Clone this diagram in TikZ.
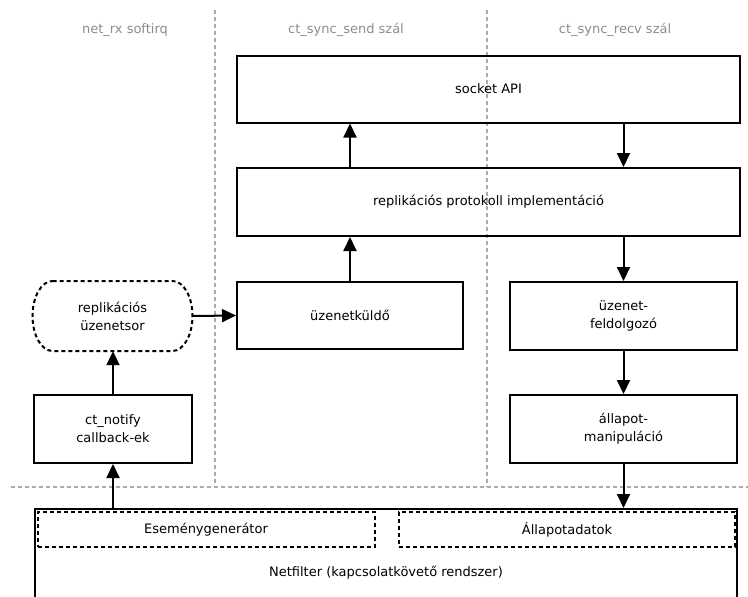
\documentclass[tikz,border=0pt]{standalone}
\usepackage{fontspec}
\setmainfont{DejaVu Sans}
\usetikzlibrary{arrows.meta}
\begin{document}
\begin{tikzpicture}[x=1pt,y=-1pt,
  txt/.style={font=\fontsize{13}{18}\selectfont, align=center},
  box/.style={txt, draw, line width=2pt, inner sep=0pt},
  dbox/.style={box, dash pattern=on 4pt off 3pt},
  dline/.style={draw, line width=2pt, dash pattern=on 4pt off 3pt},
  lane/.style={draw=black!33, line width=2pt, dash pattern=on 4pt off 3pt},
  hdr/.style={txt, text=black!45},
  arr/.style={line width=2pt, -{Triangle[width=13pt,length=14pt]}}
]
\useasboundingbox (0,0) rectangle (748,597);
\clip (0,0) rectangle (748,597);

% lanes
\draw[lane] (215,10) -- (215,487);
\draw[lane] (487,10) -- (487,487);
\draw[lane] (11,487) -- (748,487);
\node[hdr] (h1) at (125,30) {net\_rx softirq};
\node[hdr] (h2) at (346,30) {ct\_sync\_send szál};
\node[hdr] (h3) at (615,30) {ct\_sync\_recv szál};

% boxes
\node[box, minimum width=503pt, minimum height=67pt] (sock) at (488.5,89) {socket API};
\node[box, minimum width=503pt, minimum height=68pt] (proto) at (488.5,202) {replikációs protokoll implementáció};
\node[box, minimum width=226pt, minimum height=67pt] (send) at (350,315.5) {üzenetküldő};
\node[box, minimum width=227pt, minimum height=68pt] (proc) at (623.5,316) {üzenet-\\feldolgozó};
\node[box, minimum width=227pt, minimum height=68pt] (state) at (623.5,429) {állapot-\\manipuláció};
\node[txt, inner sep=0pt, minimum width=160pt, minimum height=70pt] (queue) at (112.5,316) {replikációs\\üzenetsor};
\path[dline] (52.5,281) -- (172.5,281)
  .. controls (183.5,281) and (192.5,296.7) .. (192.5,316)
  .. controls (192.5,335.3) and (183.5,351) .. (172.5,351)
  -- (52.5,351)
  .. controls (41.5,351) and (32.5,335.3) .. (32.5,316)
  .. controls (32.5,296.7) and (41.5,281) .. (52.5,281) -- cycle;
\node[box, minimum width=158pt, minimum height=68pt] (notify) at (113,429) {ct\_notify\\callback-ek};

% netfilter
\node[box, minimum width=702pt, minimum height=120pt] (nf) at (386,569) {};
\node[dbox, minimum width=337pt, minimum height=35pt] (esem) at (206,529.5) {Eseménygenerátor};
\node[dbox, minimum width=336pt, minimum height=35pt] (allap) at (567,529.5) {Állapotadatok};
\node[txt] (nflabel) at (386,573) {Netfilter (kapcsolatkövető rendszer)};

% arrows
\draw[arr] (nf.north -| notify.south) -- (notify.south);
\draw[arr] (notify.north) -- (notify.north |- queue.south);
\draw[arr] (queue.east) -- (send.west);
\draw[arr] (send.north) -- (send.north |- proto.south);
\draw[arr] (send.north |- proto.north) -- (send.north |- sock.south);
\draw[arr] (proc.north |- sock.south) -- (proc.north |- proto.north);
\draw[arr] (proc.north |- proto.south) -- (proc.north);
\draw[arr] (proc.south) -- (state.north);
\draw[arr] (state.south) -- (state.south |- nf.north);
\end{tikzpicture}
\end{document}
